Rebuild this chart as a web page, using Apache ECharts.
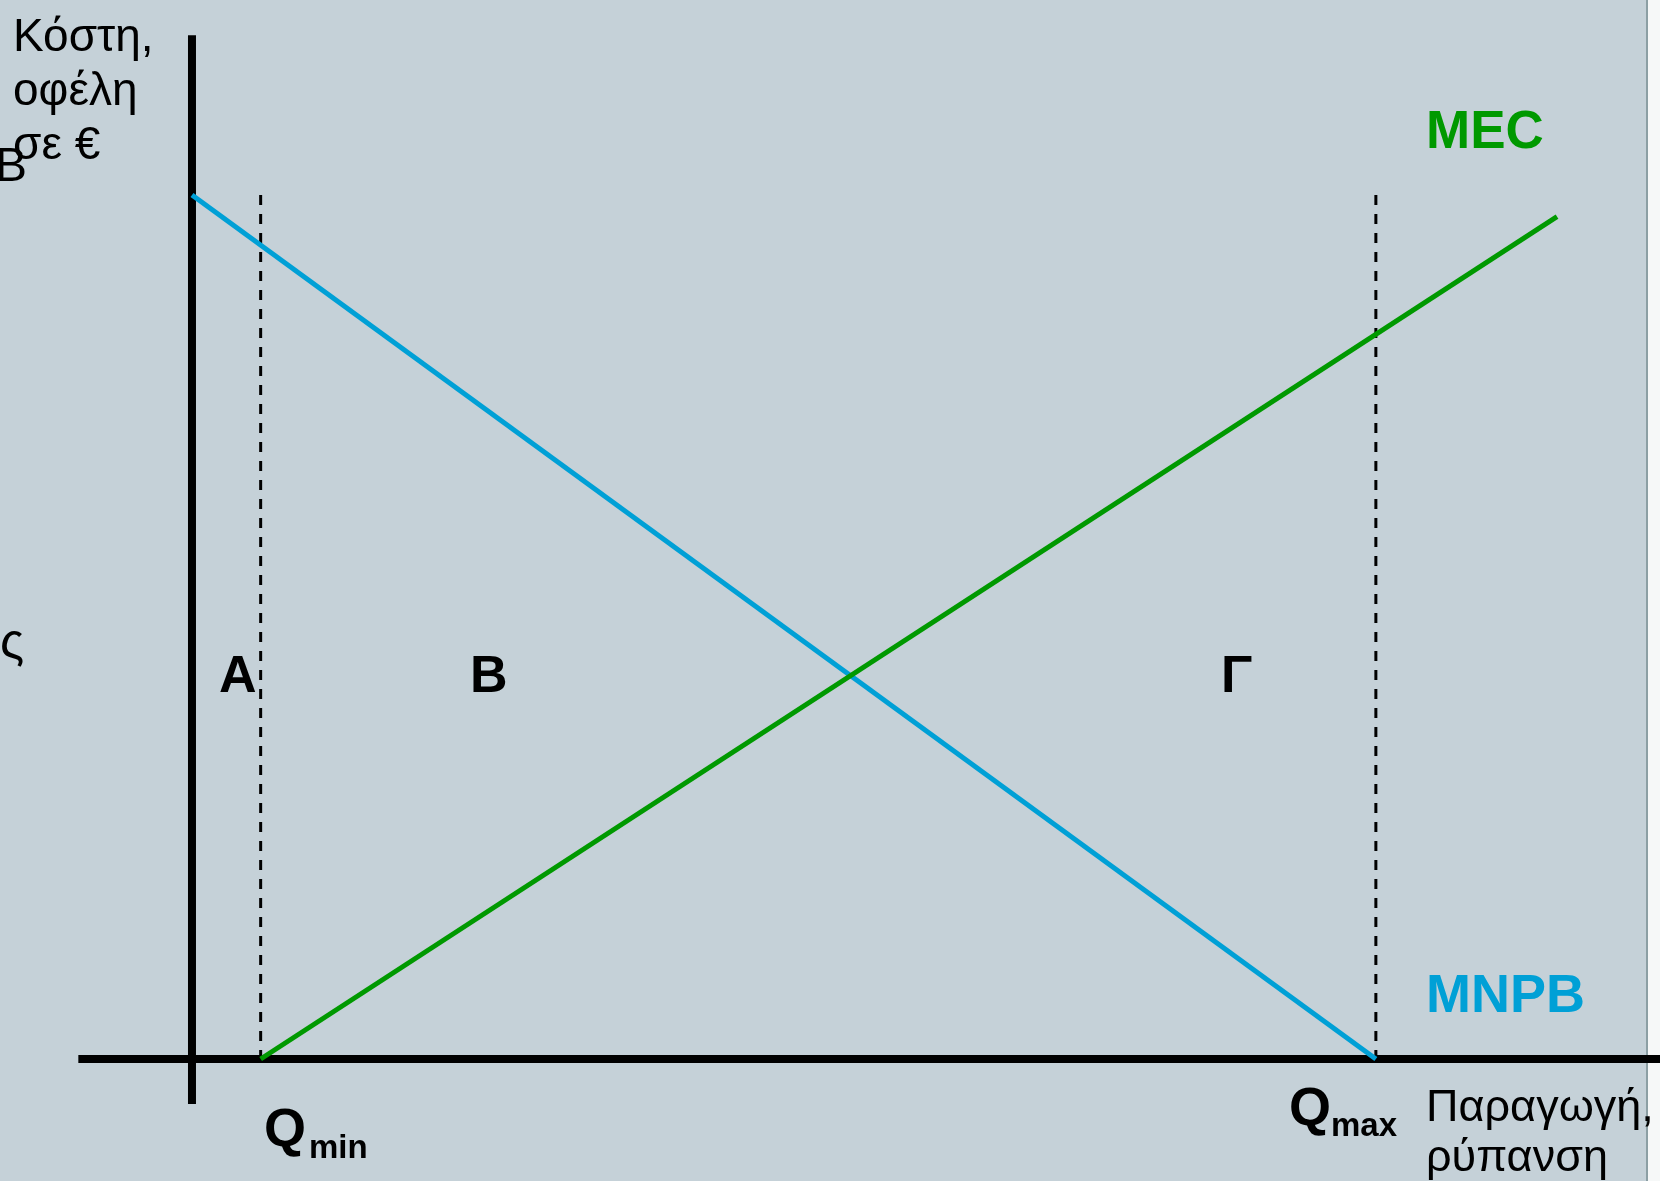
<!DOCTYPE html>
<html>
<head>
<meta charset="utf-8">
<title>MEC - MNPB</title>
<script src="https://cdn.jsdelivr.net/npm/echarts@6/dist/echarts.min.js"></script>
<style>
	html, body {
		margin: 0;
		padding: 0;
		background: #ffffff;
	}

	#chart {
		width: 1660px;
		height: 1181px;
	}
</style>
</head>
<body>
<div id="chart"></div>
<script>
	// 数据 (x: παραγωγή, y: κόστη σε €)
	const qMin = 5.8;
	const qMax = 100;
	const dashTop = 100;
	const mnpbPoints = [[0, 100], [qMax, 0]];
	const mecPoints = [[qMin, 0], [115.3, 97.5]];
	const xAxisPoints = [[-9.6, 0], [124, 0]];
	const yAxisPoints = [[0, -5.2], [0, 118.5]];

	const font = '"Liberation Sans", Arial, sans-serif';

	function txt(text, x, y, size, opts) {
		opts = opts || {};
		return {
			type: 'text',
			x: x,
			y: y,
			z: 100,
			style: {
				text: text,
				font: (opts.bold ? 'bold ' : '') + size + 'px ' + font,
				fill: opts.color || '#000000',
				textAlign: 'left',
				textVerticalAlign: 'middle',
				align: 'left',
				verticalAlign: 'middle'
			}
		};
	}

	function lineSeries(name, data, color, width, dashed) {
		return {
			name: name,
			type: 'line',
			data: data,
			symbol: 'none',
			clip: false,
			silent: true,
			animation: false,
			z: dashed ? 3 : 4,
			lineStyle: {
				color: color,
				width: width,
				type: dashed ? [10, 9] : 'solid',
				cap: 'butt'
			}
		};
	}

	const myChart = echarts.init(document.getElementById('chart'));
	const option = {
		backgroundColor: '#c5d1d8',
		animation: false,
		grid: {
			left: 73.6,
			right: 0,
			top: 4.92,
			bottom: 35.6
		},
		xAxis: {
			type: 'value',
			min: -10,
			max: 124,
			show: false
		},
		yAxis: {
			type: 'value',
			min: -10,
			max: 122,
			show: false
		},
		series: [
			lineSeries('Qmin', [[qMin, dashTop], [qMin, 0]], '#000000', 3, true),
			lineSeries('Qmax', [[qMax, dashTop], [qMax, 0]], '#000000', 3, true),
			lineSeries('axisX', xAxisPoints, '#000000', 8, false),
			lineSeries('axisY', yAxisPoints, '#000000', 8, false),
			lineSeries('MNPB', mnpbPoints, '#00a0d6', 5, false),
			lineSeries('MEC', mecPoints, '#009900', 5, false)
		],
		graphic: [
			// λευκή λωρίδα δεξιά από το πλαίσιο
			{
				type: 'rect',
				z: 0,
				shape: { x: 1648, y: 0, width: 12, height: 1181 },
				style: { fill: '#f6f8f8' }
			},
			{
				type: 'rect',
				z: 1,
				shape: { x: 1646, y: 0, width: 2, height: 1181 },
				style: { fill: '#8c9fa4' }
			},
			// άξονας y τίτλος
			txt('Κόστη,', 13, 38, 46),
			txt('οφέλη', 13, 92, 46),
			txt('σε €', 13, 146, 46),
			// υπολείμματα κειμένου αριστερά
			txt('B', -5, 168, 48),
			txt('ς', 0, 644, 50),
			// περιοχές
			txt('A', 219, 678, 52, { bold: true }),
			txt('B', 470, 678, 52, { bold: true }),
			txt('Γ', 1221, 678, 52, { bold: true }),
			// καμπύλες
			txt('MEC', 1426, 133, 53, { bold: true, color: '#009900' }),
			txt('MNPB', 1426, 997, 54, { bold: true, color: '#00a0d6' }),
			// Q
			txt('Q', 264, 1131, 54, { bold: true }),
			txt('min', 309, 1149, 33, { bold: true }),
			txt('Q', 1289, 1110, 54, { bold: true }),
			txt('max', 1331, 1127, 33, { bold: true }),
			// άξονας x τίτλος
			txt('Παραγωγή,', 1426, 1109, 45),
			txt('ρύπανση', 1426, 1159, 45)
		]
	};
	myChart.setOption(option);
</script>
</body>
</html>
